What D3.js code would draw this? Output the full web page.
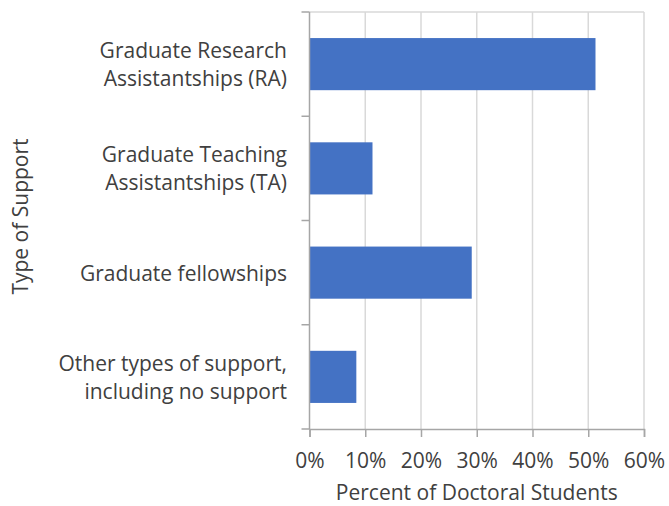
<!DOCTYPE html>
<html>
<head>
<meta charset="utf-8">
<script src="https://cdn.jsdelivr.net/npm/d3@7"></script>
<style>
    body { margin: 0; background: #fff; }
    text { font-family: "Open Sans", sans-serif; fill: #404040; }
</style>
</head>
<body>
<svg id="chart"></svg>
<script>
const categories = [
    ["Graduate Research", "Assistantships (RA)"],
    ["Graduate Teaching", "Assistantships (TA)"],
    ["Graduate fellowships"],
    ["Other types of support,", "including no support"]
];
const values = [51.3, 11.3, 29.1, 8.4];
const ticks = [0, 10, 20, 30, 40, 50, 60];

const width = 669;
const height = 506;
const margin = { top: 12, right: 25, bottom: 77, left: 309.5 };
const fontSize = 21;

const svg = d3.select("#chart")
    .attr("width", width)
    .attr("height", height);

const x = d3.scaleLinear()
    .domain([0, 60])
    .range([margin.left, width - margin.right]);

const y = d3.scaleBand()
    .domain(d3.range(categories.length))
    .range([margin.top, height - margin.bottom])
    .paddingInner(0.5)
    .paddingOuter(0.25);

// gridlines
svg.append("g")
    .selectAll("line")
    .data(ticks.slice(1))
    .enter()
    .append("line")
    .attr("x1", (d) => x(d))
    .attr("x2", (d) => x(d))
    .attr("y1", margin.top)
    .attr("y2", height - margin.bottom)
    .attr("stroke", "#d9d9d9")
    .attr("stroke-width", 1.5);

// top border
svg.append("line")
    .attr("x1", x(0))
    .attr("x2", x(60))
    .attr("y1", margin.top)
    .attr("y2", margin.top)
    .attr("stroke", "#d9d9d9")
    .attr("stroke-width", 1.5);

// bars
svg.append("g")
    .selectAll("rect")
    .data(values)
    .enter()
    .append("rect")
    .attr("x", x(0))
    .attr("y", (d, i) => y(i))
    .attr("width", (d) => x(d) - x(0))
    .attr("height", y.bandwidth())
    .attr("fill", "#4472c4");

// x axis
const xAxis = svg.append("g")
    .attr("transform", `translate(0, ${height - margin.bottom})`)
    .call(d3.axisBottom(x).tickValues(ticks).tickFormat((d) => d + "%").tickSize(8).tickPadding(16));
xAxis.select(".domain").attr("stroke", "#a6a6a6").attr("stroke-width", 1.5);
xAxis.selectAll(".tick line").attr("stroke", "#a6a6a6").attr("stroke-width", 1.5);
xAxis.selectAll(".tick text").attr("font-size", fontSize).attr("fill", "#404040")
    .attr("font-family", "Open Sans, sans-serif");

// y axis line and boundary ticks
const bounds = d3.range(categories.length + 1).map((i) => margin.top + i * (height - margin.bottom - margin.top) / categories.length);
svg.append("line")
    .attr("x1", x(0))
    .attr("x2", x(0))
    .attr("y1", margin.top)
    .attr("y2", height - margin.bottom)
    .attr("stroke", "#a6a6a6")
    .attr("stroke-width", 1.5);
svg.append("g")
    .selectAll("line")
    .data(bounds)
    .enter()
    .append("line")
    .attr("x1", x(0) - 8)
    .attr("x2", x(0))
    .attr("y1", (d) => d)
    .attr("y2", (d) => d)
    .attr("stroke", "#a6a6a6")
    .attr("stroke-width", 1.5);

// category labels
const labels = svg.append("g")
    .selectAll("text")
    .data(categories)
    .enter()
    .append("text")
    .attr("text-anchor", "end")
    .attr("font-size", fontSize)
    .attr("y", (d, i) => y(i) + y.bandwidth() / 2);

labels.selectAll("tspan")
    .data((d) => d.map((line, j) => ({ line, j, n: d.length })))
    .enter()
    .append("tspan")
    .attr("x", 287)
    .attr("dy", (d) => d.j === 0 ? (0.38 * fontSize - (d.n - 1) * 14) : 28)
    .text((d) => d.line);

// axis titles
svg.append("text")
    .attr("x", (x(0) + x(60)) / 2)
    .attr("y", 500)
    .attr("text-anchor", "middle")
    .attr("font-size", fontSize)
    .text("Percent of Doctoral Students");

svg.append("text")
    .attr("transform", `translate(28, ${(margin.top + height - margin.bottom) / 2 - 4}) rotate(-90)`)
    .attr("text-anchor", "middle")
    .attr("font-size", fontSize)
    .text("Type of Support");
</script>
</body>
</html>
